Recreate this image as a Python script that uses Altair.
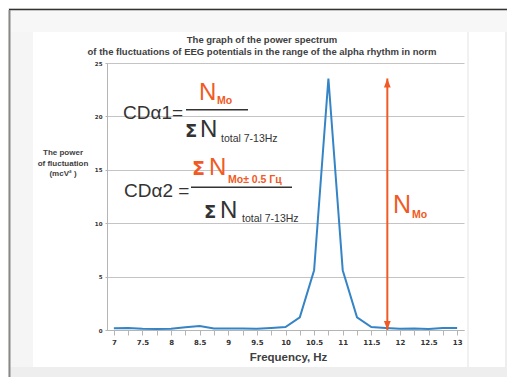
import altair as alt
import pandas as pd

# ---- data ----
freq = [7, 7.25, 7.5, 7.75, 8, 8.25, 8.5, 8.75, 9, 9.25, 9.5, 9.75, 10,
        10.25, 10.5, 10.75, 11, 11.25, 11.5, 11.75, 12, 12.25, 12.5, 12.75, 13]
power = [0.16, 0.19, 0.12, 0.10, 0.12, 0.25, 0.37, 0.15, 0.15, 0.15, 0.12, 0.19, 0.28,
         1.18, 5.6, 23.55, 5.6, 1.18, 0.28, 0.19, 0.12, 0.15, 0.10, 0.19, 0.19]
x_ticks = [7, 7.25, 7.5, 7.75, 8, 8.25, 8.5, 8.75, 9, 9.25, 9.5, 9.75, 10,
           10.25, 10.5, 10.75, 11, 11.25, 11.5, 11.75, 12, 12.25, 12.5, 12.75, 13]
y_ticks = [0, 5, 10, 15, 20, 25]
arrow_freq = [11.78]
arrow_bottom = [0]
arrow_top = [23.55]

title_lines = ["The graph of the power spectrum",
               "of the fluctuations of EEG potentials in the range of the alpha rhythm in norm"]
y_title_lines = ["The power", "of fluctuation", "(mcV² )"]
x_title = "Frequency, Hz"

BLUE = "#3584c6"
ORANGE = "#f15a24"
DARK = "#333333"
GRID = "#c4c4c4"

df = pd.DataFrame({"freq": freq, "power": power})
arrow_df = pd.DataFrame({"freq": arrow_freq, "power": arrow_bottom, "power2": arrow_top})
top_df = pd.DataFrame({"freq": arrow_freq, "power": arrow_top})
bot_df = pd.DataFrame({"freq": arrow_freq, "power": arrow_bottom})

X = alt.X("freq:Q",
          scale=alt.Scale(domain=[6.88, 13.12], nice=False, zero=False),
          axis=alt.Axis(values=x_ticks, title=None, grid=False,
                        labelExpr="datum.value % 0.5 == 0 ? format(datum.value, '~g') : ''",
                        labelFont="DejaVu Sans", labelFontWeight="bold", labelFontSize=7,
                        labelColor=DARK, labelPadding=3, tickSize=5, tickColor="#b5b5b5",
                        domainColor="#b5b5b5", labelFlush=False))
Y = alt.Y("power:Q",
          scale=alt.Scale(domain=[0, 25], nice=False),
          axis=alt.Axis(values=y_ticks, title=None, grid=True, gridColor=GRID,
                        labelFont="DejaVu Sans", labelFontWeight="bold", labelFontSize=5.5,
                        labelColor=DARK, labelPadding=3, tickSize=2, tickColor="#b5b5b5",
                        domainColor="#b5b5b5"))

one = alt.Data(values=[{}])


def box(x, x2, y, y2, color):
    return alt.Chart(one).mark_rect(color=color).encode(
        x=alt.value(x), x2=alt.value(x2), y=alt.value(y), y2=alt.value(y2))


def hline(x, x2, y, color, w):
    return alt.Chart(one).mark_rule(color=color, strokeWidth=w).encode(
        x=alt.value(x), x2=alt.value(x2), y=alt.value(y))


def vline(x, y, y2, color, w):
    return alt.Chart(one).mark_rule(color=color, strokeWidth=w).encode(
        x=alt.value(x), y=alt.value(y), y2=alt.value(y2))


def label(text, x, y, size, color=DARK, weight="normal", font="Liberation Sans", align="left"):
    return alt.Chart(one).mark_text(
        text=text, fontSize=size, color=color, fontWeight=weight, font=font,
        align=align, baseline="alphabetic").encode(x=alt.value(x), y=alt.value(y))


# decoration (page frame, shadow around the card)
deco = [
    box(-99, 400, -55, -53, "#f2f2ee"),
    box(-99, -97.5, -55, 314, "#f2f2ee"),
    box(-97, -74, -53, 314, "#f5f5f5"),
    box(398, 400, -53, 314, "#eeeeee"),
    box(-97, 400, -53, -31, "#f7f7f7"),
    box(-97, 400, 304, 314, "#eeeeee"),
    hline(-98, 400, -53.5, "#333333", 1.5),
    vline(-97.5, -53, 314, "#888888", 2),
    vline(361, -31, 304, "#e2e2e2", 1),
]

line = alt.Chart(df).mark_line(color=BLUE, strokeWidth=2).encode(x=X, y=Y)

arrow = alt.Chart(arrow_df).mark_rule(color=ORANGE, strokeWidth=2).encode(
    x=X, y=Y, y2="power2:Q")
head_up = alt.Chart(top_df).mark_point(
    shape="M0,-1L0.75,1L-0.75,1Z", filled=True, size=81, color=ORANGE, opacity=1, yOffset=4.5
).encode(x=X, y=Y)
head_down = alt.Chart(bot_df).mark_point(
    shape="M0,1L0.75,-1L-0.75,-1Z", filled=True, size=81, color=ORANGE, opacity=1, yOffset=-4.5
).encode(x=X, y=Y)

SIG = "DejaVu Sans"

texts = [
    label(title_lines[0], 155, -20, 9.5, "#404040", "bold", align="center"),
    label(title_lines[1], 155, -8, 9.5, "#404040", "bold", align="center"),
    label(y_title_lines[0], -44, 92, 8, "#404040", "bold", align="center"),
    label(y_title_lines[1], -44, 102.7, 8, "#404040", "bold", align="center"),
    label(y_title_lines[2], -44, 113, 8, "#404040", "bold", align="center"),
    label(x_title, 181.5, 298, 11.5, "#404040", "bold", align="center"),
    # formula 1
    label("CDα1=", 16, 55.7, 19),
    hline(79, 141, 46.7, DARK, 1.5),
    label("N", 92, 37.3, 24, ORANGE),
    label("Mo", 110, 41.3, 10.5, ORANGE, "bold"),
    label("Σ", 78, 74, 18, DARK, "bold", SIG),
    label("N", 93, 74, 24),
    label("total 7-13Hz", 114, 79, 10.5),
    # formula 2
    label("CDα2 =", 17, 133.7, 19),
    hline(84, 185, 124.3, DARK, 1.5),
    label("Σ", 85, 112, 19, ORANGE, "bold", SIG),
    label("N", 102, 112, 24, ORANGE),
    label("Mo± 0.5 Гц", 121, 120.3, 10.5, ORANGE, "bold"),
    label("Σ", 97, 155.3, 18, DARK, "bold", SIG),
    label("N", 113, 155.3, 24),
    label("total 7-13Hz", 135, 158.7, 10.5),
    # N_Mo next to the arrow
    label("N", 286, 150.3, 25, ORANGE),
    label("Mo", 305, 155.3, 10.5, ORANGE, "bold"),
]

chart = alt.layer(*deco, line, arrow, head_up, head_down, *texts).properties(
    width=357, height=267,
    autosize=alt.AutoSizeParams(type="none"),
    padding={"left": 99, "top": 55, "right": 43, "bottom": 47},
).configure(background="white").configure_view(stroke=None)

chart.save("out.html", embed_options={"renderer": "svg", "actions": False})
